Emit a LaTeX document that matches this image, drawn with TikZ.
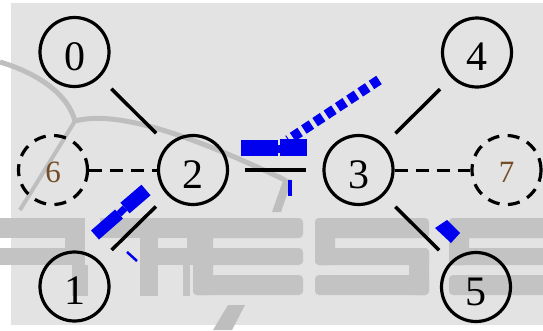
\documentclass[tikz,border=0pt]{standalone}
\usepackage{fontspec}
\setmainfont{Liberation Serif}
\definecolor{bgray}{RGB}{227,227,227}
\definecolor{wmark}{RGB}{195,195,195}
\definecolor{warc}{RGB}{190,190,190}
\definecolor{hlblue}{RGB}{0,0,238}
\definecolor{ghosttext}{RGB}{115,78,40}
\begin{document}
\begin{tikzpicture}[x=1pt,y=-1pt,
  vtx/.style={circle, draw=black, line width=3.2pt, minimum size=69pt, inner sep=0pt,
    font=\fontsize{42}{42}\selectfont, text height=36pt, text depth=0pt},
  ghostvtx/.style={vtx, dash pattern=on 12pt off 8.5pt,
    font=\fontsize{31}{31}\selectfont, text height=25pt, text=ghosttext},
  edgeline/.style={line width=3.5pt, shorten >=16pt, shorten <=16pt},
  dashedge/.style={line width=3pt, dash pattern=on 13pt off 8pt},
  hlpath/.style={hlblue},
  wm/.style={fill=wmark}
]
\useasboundingbox (0,0) rectangle (543,330);
\fill[white] (0,0) rectangle (543,330);
\fill[bgray] (11,3) rectangle (543,325);

% watermark (faint logo)
\begin{scope}
\clip (0,0) rectangle (543,330);
\draw[warc, line width=5pt] (0,62) .. controls (40,74) and (68,95) .. (75,121);
\draw[warc, line width=5pt] (75,121) .. controls (110,112) and (170,125) .. (285,180);
\draw[warc, line width=4pt] (75,121) -- (20,210);
\fill[warc] (284,178) -- (292,180) -- (281,212) -- (272,212) -- cycle;
\fill[warc] (228,305) -- (245,305) -- (232,330) -- (213,330) -- cycle;
% P
\fill[wm] (0,218) rectangle (85,238);
\fill[wm] (0,248) rectangle (85,265);
\fill[wm] (65,218) rectangle (85,265);
\fill[wm] (72,265) rectangle (88,296);
% R
\fill[wm] (100,218) rectangle (205,238);
\fill[wm] (140,218) rectangle (158,296);
\fill[wm] (140,248) rectangle (205,265);
\fill[wm] (187,218) rectangle (205,265);
\fill[wm] (183,265) rectangle (190,296);
% E
\fill[wm, rounded corners=4pt] (193,218) rectangle (303,238);
\fill[wm, rounded corners=4pt] (193,218) rectangle (213,295);
\fill[wm, rounded corners=4pt] (193,248) rectangle (303,265);
\fill[wm, rounded corners=4pt] (193,275) rectangle (303,295);
% S
\foreach \dx in {0,134} {
  \begin{scope}[xshift=\dx pt]
  \fill[wm, rounded corners=4pt] (315,218) rectangle (429,238);
  \fill[wm, rounded corners=4pt] (315,218) rectangle (335,265);
  \fill[wm, rounded corners=4pt] (315,248) rectangle (429,265);
  \fill[wm, rounded corners=4pt] (409,248) rectangle (429,295);
  \fill[wm, rounded corners=4pt] (315,275) rectangle (429,295);
  \end{scope}
}
\end{scope}

% nodes
\node[vtx] (n0) at (74.5,52) {0};
\node[vtx] (n4) at (477,52.5) {4};
\node[vtx] (n2) at (193,170) {2};
\node[vtx] (n3) at (358.5,170) {3};
\node[ghostvtx] (n6) at (53,170) {6};
\node[ghostvtx] (n7) at (506.5,170) {7};
\node[vtx] (n1) at (74.5,286.5) {1};
\node[vtx] (n5) at (476,287) {5};

% edges
\draw[edgeline] (n0) -- (n2);
\draw[edgeline] (n2) -- (n3);
\draw[edgeline] (n4) -- (n3);
\draw[edgeline] (n2) -- (n1);
\draw[edgeline] (n3) -- (n5);
\draw[dashedge] (n6) -- (n2);
\draw[dashedge] (n3) -- (n7);

% blue highlight marks
\coordinate (bdA) at (379,80);
\coordinate (bdB) at (288,140);
\draw[hlpath, line width=10pt, dash pattern=on 9pt off 4.5pt] (bdA) -- (bdB);
\fill[hlpath] (241,140) rectangle (278,156);
\fill[hlpath] (277,145) rectangle (281,153);
\fill[hlpath] (280,139) rectangle (307,156);
\coordinate (tkA) at (290,180);
\coordinate (tkB) at (290,196);
\draw[hlpath, line width=4pt] (tkA) -- (tkB);
\coordinate (p1) at (95,235);
\coordinate (p2) at (119,214);
\coordinate (p3) at (125,208);
\coordinate (p4) at (146,190);
\draw[hlpath, line width=12pt] (p1) -- (p2);
\draw[hlpath, line width=7pt] (p2) -- (p3);
\draw[hlpath, line width=14pt] (p3) -- (p4);
\coordinate (thA) at (127,252);
\coordinate (thB) at (137,261);
\draw[hlpath, line width=2.5pt] (thA) -- (thB);
\fill[hlpath] (447,220) -- (460,233) -- (451,243) -- (435,228) -- cycle;
\end{tikzpicture}
\end{document}
